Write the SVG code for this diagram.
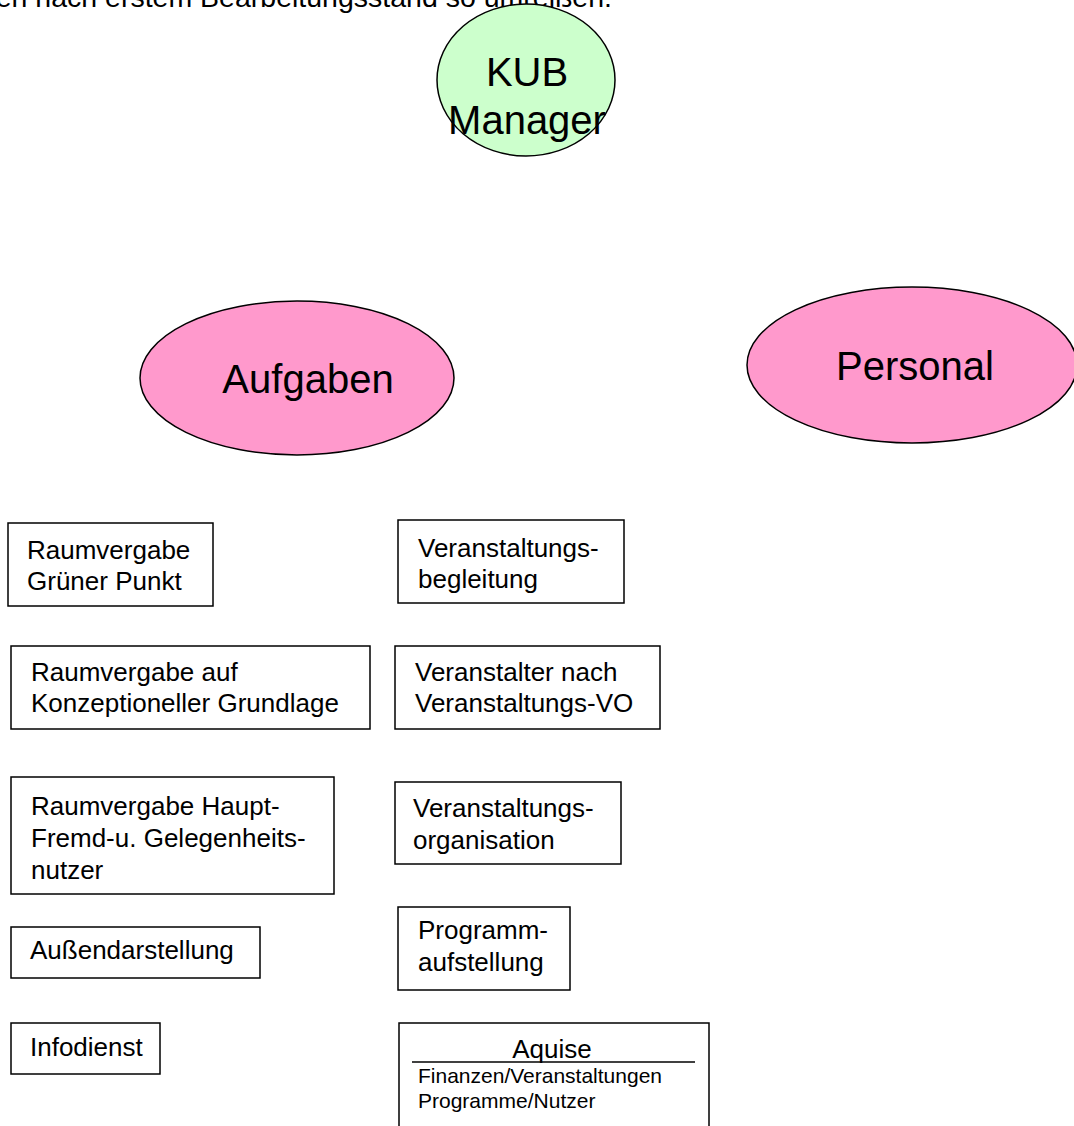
<svg xmlns="http://www.w3.org/2000/svg" width="1074" height="1126" viewBox="0 0 1074 1126">
<style>
text{font-family:"Liberation Sans",Arial,sans-serif;fill:#000}
.big{font-size:40px}
.t{font-size:26px}
.s{font-size:21px}
.box{fill:#fff;stroke:#000;stroke-width:1.5}
.pink{fill:#FF99CC;stroke:#000;stroke-width:1.5}
.green{fill:#CCFFCC;stroke:#000;stroke-width:1.5}
</style>
<rect width="1074" height="1126" fill="#fff"/>
<text x="612" y="7" text-anchor="end" style="font-size:28.5px">en nach erstem Bearbeitungsstand so umreißen.</text>
<g id="connectors"></g>
<g id="kub">
<ellipse class="green" cx="526" cy="80" rx="89" ry="76"/>
<text class="big" x="527" y="86" text-anchor="middle">KUB</text>
<text class="big" x="527" y="134" text-anchor="middle">Manager</text>
</g>
<g id="aufgaben">
<ellipse class="pink" cx="297" cy="378" rx="157" ry="77"/>
<text class="big" x="308" y="393" text-anchor="middle">Aufgaben</text>
</g>
<g id="personal">
<ellipse class="pink" cx="912" cy="365" rx="165" ry="78"/>
<text class="big" x="915" y="380" text-anchor="middle">Personal</text>
</g>
<g id="n1"><rect class="box" x="8" y="523" width="205" height="83"/>
<text class="t" x="27" y="559">Raumvergabe</text><text class="t" x="27" y="590">Grüner Punkt</text></g>
<g id="n2"><rect class="box" x="398" y="520" width="226" height="83"/>
<text class="t" x="418" y="557">Veranstaltungs-</text><text class="t" x="418" y="588">begleitung</text></g>
<g id="n3"><rect class="box" x="11" y="646" width="359" height="83"/>
<text class="t" x="31" y="681">Raumvergabe auf</text><text class="t" x="31" y="712">Konzeptioneller Grundlage</text></g>
<g id="n4"><rect class="box" x="395" y="646" width="265" height="83"/>
<text class="t" x="415" y="681">Veranstalter nach</text><text class="t" x="415" y="712">Veranstaltungs-VO</text></g>
<g id="n5"><rect class="box" x="11" y="777" width="323" height="117"/>
<text class="t" x="31" y="815">Raumvergabe Haupt-</text><text class="t" x="31" y="847">Fremd-u. Gelegenheits-</text><text class="t" x="31" y="879">nutzer</text></g>
<g id="n6"><rect class="box" x="395" y="782" width="226" height="82"/>
<text class="t" x="413" y="817">Veranstaltungs-</text><text class="t" x="413" y="849">organisation</text></g>
<g id="n7"><rect class="box" x="11" y="927" width="249" height="51"/>
<text class="t" x="30" y="959">Außendarstellung</text></g>
<g id="n8"><rect class="box" x="398" y="907" width="172" height="83"/>
<text class="t" x="418" y="939">Programm-</text><text class="t" x="418" y="971">aufstellung</text></g>
<g id="n9"><rect class="box" x="11" y="1023" width="149" height="51"/>
<text class="t" x="30" y="1056">Infodienst</text></g>
<g id="n10"><rect class="box" x="399" y="1023" width="310" height="110"/>
<text class="t" x="552" y="1058" text-anchor="middle">Aquise</text>
<line x1="412" y1="1062" x2="695" y2="1062" stroke="#000" stroke-width="1.5"/>
<text class="s" x="418" y="1083">Finanzen/Veranstaltungen</text><text class="s" x="418" y="1108">Programme/Nutzer</text></g>
</svg>
